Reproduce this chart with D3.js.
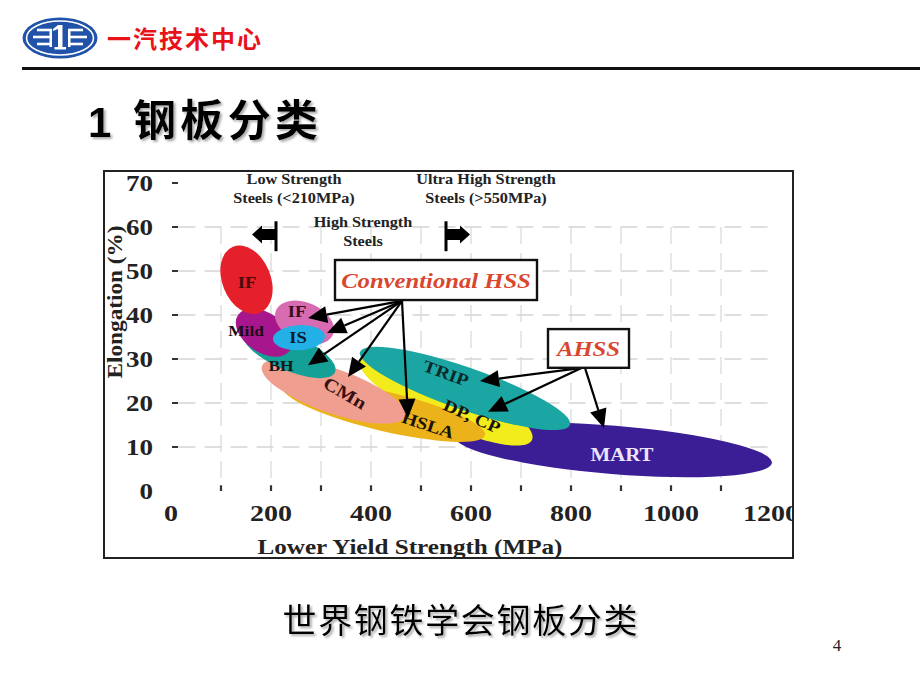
<!DOCTYPE html>
<html><head><meta charset="utf-8">
<script src="https://cdn.jsdelivr.net/npm/d3@7"></script>
<style>
html,body{margin:0;padding:0;background:#fff;}
svg{display:block;}
</style></head>
<body>
<script>
// ---------- DATA ----------
const xTicks = [0, 200, 400, 600, 800, 1000, 1200];
const yTicks = [0, 10, 20, 30, 40, 50, 60, 70];
const gridX = [100, 200, 300, 400, 500, 600, 700, 800, 900, 1000, 1100];
const gridY = [10, 20, 30, 40, 50, 60];

// steel families as ellipses: major-axis tips (MPa, %) and half width (%)
const families = ["MART", "DP, CP", "TRIP", "HSLA", "CMn", "BH", "Mild", "IF (pink)", "IS", "IF"];
const tipX1 = [568, 378, 378, 224, 182, 144, 134, 210, 204, 124];
const tipY1 = [12.3, 29.8, 31.6, 23.6, 28.4, 36.1, 40.0, 41.1, 34.5, 55.5];
const tipX2 = [1202, 722, 798, 628, 468, 328, 238, 324, 308, 178];
const tipY2 = [6.4, 11.6, 15.0, 12.7, 17.0, 27.0, 32.0, 35.5, 35.2, 40.5];
const halfW = [5.5, 5.5, 4.8, 4.5, 5.0, 4.1, 4.5, 4.5, 2.85, 5.5];

// labels inside the regions
const labelText = ["MART", "DP, CP", "TRIP", "HSLA", "CMn", "BH", "Mild", "IF", "IS", "IF"];
const labelX = [902, 602, 550, 514, 348, 220, 150, 252, 254, 152];
const labelY = [8.2, 17.0, 26.8, 15.0, 22.3, 28.4, 36.4, 40.9, 34.8, 47.3];

// callout boxes
const boxText = ["Conventional HSS", "AHSS"];
const boxX1 = [328, 754];
const boxX2 = [732, 916];
const boxY1 = [52.5, 36.8];
const boxY2 = [43.4, 28.0];

// callout arrows: origin -> tip
const arrowFromX = [462, 462, 462, 462, 462, 822, 822, 828];
const arrowFromY = [43.2, 43.2, 43.2, 43.2, 43.2, 28.0, 28.0, 28.0];
const arrowToX = [274, 312, 274, 354, 474, 618, 634, 866];
const arrowToY = [39.3, 35.9, 28.6, 25.9, 16.6, 25.0, 18.0, 14.3];

// strength-class annotations
const classLines = [["Low Strength", "Steels (<210MPa)"], ["High Strength", "Steels"], ["Ultra High Strength", "Steels (>550MPa)"]];
const classX = [246, 384, 630];
const classY = [70.9, 61.1, 70.9];
const boundaryMPa = [210, 550];
const boundaryDir = [-1, 1];

// ---------- STYLE ----------
const famColors = ["#3b1d96", "#f2ec1c", "#1ba6a4", "#ecb21a", "#ef9e8f", "#14a096", "#a8168e", "#d86cb2", "#22b0e6", "#e6202b"];
const labelRot = [0, 24, 20, 18, 30, 0, 0, 0, 0, 0];
const labelSize = [18, 17, 17, 17, 18, 15, 15, 16, 16, 16];
const labelColor = ["#ece4fb", "#1a1408", "#0d2a2a", "#1a1208", "#3a1010", "#0d1a1a", "#1a0d1a", "#3a0c1c", "#0d1a2a", "#4a0a0a"];

const W = 920, H = 690;
const svg = d3.select("body").append("svg").attr("width", W).attr("height", H);
const serif = "'Liberation Serif','Times New Roman',serif";
const cjk = "'Noto Sans CJK SC','Noto Sans',sans-serif";

// widen text horizontally (reference typeface is wider than Liberation Serif)
function stretch(sel, f) {
  sel.each(function () {
    const L = this.getComputedTextLength();
    d3.select(this).attr("textLength", L * f).attr("lengthAdjust", "spacingAndGlyphs");
  });
  return sel;
}

// ---------- HEADER ----------
const logo = svg.append("g");
logo.append("ellipse").attr("cx", 60).attr("cy", 38).attr("rx", 37.5).attr("ry", 20.5).attr("fill", "#1f52a8");
logo.append("ellipse").attr("cx", 60).attr("cy", 38).attr("rx", 33.5).attr("ry", 17).attr("fill", "none").attr("stroke", "#fff").attr("stroke-width", 1.6);
[-1, 1].forEach(s => {
  const bx = 60 + s * 8;
  logo.append("rect").attr("x", s < 0 ? bx - 2.5 : bx).attr("y", 29).attr("width", 2.5).attr("height", 18).attr("fill", "#fff");
  [[30, 15], [37, 19], [44, 15]].forEach(([yy, len]) => {
    logo.append("rect").attr("x", s < 0 ? bx - len : bx).attr("y", yy - 1.3).attr("width", len).attr("height", 2.6).attr("fill", "#fff");
  });
});
logo.append("rect").attr("x", 58).attr("y", 25).attr("width", 4.5).attr("height", 24).attr("fill", "#fff");
logo.append("path").attr("d", "M58,25 L53,29 L53,31 L58,29 Z").attr("fill", "#fff");
logo.append("rect").attr("x", 54.5).attr("y", 47).attr("width", 11.5).attr("height", 2.5).attr("fill", "#fff");

svg.append("text").attr("x", 107).attr("y", 48).attr("font-family", cjk).attr("font-weight", "bold")
  .attr("font-size", 24).attr("fill", "#e8121a").attr("textLength", 154).text("一汽技术中心");
svg.append("rect").attr("x", 22).attr("y", 67).attr("width", 898).attr("height", 3).attr("fill", "#111");

const defs = svg.append("defs");
const shadow = defs.append("filter").attr("id", "sh").attr("x", "-10%").attr("y", "-10%").attr("width", "130%").attr("height", "130%");
shadow.append("feDropShadow").attr("dx", 2).attr("dy", 2).attr("stdDeviation", 0.8).attr("flood-color", "#999").attr("flood-opacity", 0.8);
svg.append("text").attr("x", 88).attr("y", 137).attr("font-family", "'Liberation Sans',Arial,sans-serif").attr("font-weight", "bold")
  .attr("font-size", 42).attr("filter", "url(#sh)").text("1");
svg.append("text").attr("x", 133).attr("y", 136).attr("font-family", cjk).attr("font-weight", "bold")
  .attr("font-size", 43).attr("filter", "url(#sh)").attr("textLength", 185).text("钢板分类");

// ---------- CHART ----------
const x = d3.scaleLinear().domain([0, 1200]).range([171, 771]);
const y = d3.scaleLinear().domain([0, 70]).range([491, 183]);
const frame = {x0: 104, y0: 171, x1: 793, y1: 558};

defs.append("clipPath").attr("id", "fc").append("rect")
  .attr("x", frame.x0).attr("y", frame.y0).attr("width", frame.x1 - frame.x0).attr("height", frame.y1 - frame.y0);
const chart = svg.append("g").attr("clip-path", "url(#fc)");

// grid
chart.append("g").selectAll("line").data(gridY).join("line")
  .attr("x1", x(15)).attr("x2", x(1195)).attr("y1", d => y(d)).attr("y2", d => y(d))
  .attr("stroke", "#d4d4d4").attr("stroke-width", 1.4).attr("stroke-dasharray", "17,9");
chart.append("g").selectAll("line").data(gridX).join("line")
  .attr("x1", d => x(d)).attr("x2", d => x(d)).attr("y1", y(60)).attr("y2", y(1))
  .attr("stroke", "#d8d8d8").attr("stroke-width", 1.2).attr("stroke-dasharray", "17,9");

// tick marks
chart.append("g").selectAll("line").data(yTicks.filter(d => d > 0)).join("line")
  .attr("x1", x(2)).attr("x2", x(14)).attr("y1", d => y(d)).attr("y2", d => y(d))
  .attr("stroke", "#333").attr("stroke-width", 2);
chart.append("g").selectAll("line").data(gridX).join("line")
  .attr("x1", d => x(d)).attr("x2", d => x(d)).attr("y1", y(1.3)).attr("y2", y(0))
  .attr("stroke", "#333").attr("stroke-width", 2.2);

// tick labels
chart.append("g").selectAll("text").data(yTicks).join("text")
  .attr("x", 153).attr("y", d => y(d) + 8).attr("text-anchor", "end")
  .attr("font-family", serif).attr("font-weight", "bold").attr("font-size", 23).attr("fill", "#222")
  .attr("textLength", d => String(d).length * 13.5).attr("lengthAdjust", "spacingAndGlyphs")
  .text(d => d);
chart.append("g").selectAll("text").data(xTicks).join("text")
  .attr("x", d => x(d)).attr("y", 521).attr("text-anchor", "middle")
  .attr("font-family", serif).attr("font-weight", "bold").attr("font-size", 23).attr("fill", "#222")
  .attr("textLength", d => String(d).length * 14).attr("lengthAdjust", "spacingAndGlyphs")
  .text(d => d);

// axis titles
chart.append("text").attr("x", 410).attr("y", 554).attr("text-anchor", "middle")
  .attr("font-family", serif).attr("font-weight", "bold").attr("font-size", 22).attr("fill", "#222")
  .attr("textLength", 305).attr("lengthAdjust", "spacingAndGlyphs")
  .text("Lower Yield Strength (MPa)");
chart.append("text").attr("transform", "translate(122,302) rotate(-90)").attr("text-anchor", "middle")
  .attr("font-family", serif).attr("font-weight", "bold").attr("font-size", 22).attr("fill", "#222")
  .attr("textLength", 153).attr("lengthAdjust", "spacingAndGlyphs")
  .text("Elongation (%)");

// ellipses
const fam = families.map((n, i) => {
  const p1 = [x(tipX1[i]), y(tipY1[i])], p2 = [x(tipX2[i]), y(tipY2[i])];
  const cx = (p1[0] + p2[0]) / 2, cy = (p1[1] + p2[1]) / 2;
  const a = Math.hypot(p2[0] - p1[0], p2[1] - p1[1]) / 2;
  const b = y(0) - y(halfW[i]);
  const ang = Math.atan2(p2[1] - p1[1], p2[0] - p1[0]) * 180 / Math.PI;
  return {n, cx, cy, a, b, ang, c: famColors[i]};
});
chart.append("g").selectAll("ellipse").data(fam).join("ellipse")
  .attr("transform", d => `translate(${d.cx},${d.cy}) rotate(${d.ang})`)
  .attr("rx", d => d.a).attr("ry", d => d.b).attr("fill", d => d.c);

// labels
stretch(chart.append("g").selectAll("text").data(labelText).join("text")
  .attr("transform", (d, i) => `translate(${x(labelX[i])},${y(labelY[i])}) rotate(${labelRot[i]})`)
  .attr("text-anchor", "middle").attr("dy", "0.35em")
  .attr("font-family", serif).attr("font-weight", "bold")
  .attr("font-size", (d, i) => labelSize[i]).attr("fill", (d, i) => labelColor[i])
  .text(d => d), 1.16);

// arrows
function arrow(g, x0, y0, x1, y1, hl, hw, sw) {
  const dx = x1 - x0, dy = y1 - y0, L = Math.hypot(dx, dy);
  const ux = dx / L, uy = dy / L;
  const bx = x1 - ux * hl, by = y1 - uy * hl;
  g.append("line").attr("x1", x0).attr("y1", y0).attr("x2", bx).attr("y2", by)
    .attr("stroke", "#000").attr("stroke-width", sw);
  g.append("path").attr("d", `M${x1},${y1} L${bx - uy * hw},${by + ux * hw} L${bx + uy * hw},${by - ux * hw} Z`).attr("fill", "#000");
}
const ag = chart.append("g");
arrowFromX.forEach((d, i) => arrow(ag, x(d), y(arrowFromY[i]), x(arrowToX[i]), y(arrowToY[i]), 19, 8.5, 2.2));

// callout boxes
boxText.forEach((t, i) => {
  const g = chart.append("g");
  g.append("rect").attr("x", x(boxX1[i])).attr("y", y(boxY1[i]))
    .attr("width", x(boxX2[i]) - x(boxX1[i])).attr("height", y(boxY2[i]) - y(boxY1[i]))
    .attr("fill", "#fff").attr("stroke", "#111").attr("stroke-width", 2.4);
  stretch(g.append("text").attr("x", (x(boxX1[i]) + x(boxX2[i])) / 2).attr("y", (y(boxY1[i]) + y(boxY2[i])) / 2)
    .attr("dy", "0.35em").attr("text-anchor", "middle")
    .attr("font-family", serif).attr("font-style", "italic").attr("font-weight", "bold")
    .attr("font-size", 22).attr("fill", "#d9472f").text(t), 1.12);
});

// strength class annotations
classLines.forEach((lines, i) => {
  lines.forEach((ln, j) => {
    stretch(chart.append("text").attr("x", x(classX[i])).attr("y", y(classY[i]) + j * 19 + 5)
      .attr("text-anchor", "middle").attr("font-family", serif).attr("font-weight", "bold")
      .attr("font-size", 14).attr("fill", "#222").text(ln), 1.16);
  });
});
boundaryMPa.forEach((m, i) => {
  const bx = x(m), cy = y(58.3), s = boundaryDir[i];
  const g = chart.append("g");
  g.append("rect").attr("x", bx - 1.5).attr("y", y(61.3)).attr("width", 3).attr("height", y(54.5) - y(61.3)).attr("fill", "#000");
  const tip = x(m + s * 48);
  const neck = x(m + s * 28);
  g.append("path").attr("d",
    `M${bx},${cy - 5.5} L${neck},${cy - 5.5} L${neck},${cy - 9} L${tip},${cy} L${neck},${cy + 9} L${neck},${cy + 5.5} L${bx},${cy + 5.5} Z`)
    .attr("fill", "#000");
});

// frame
svg.append("rect").attr("x", frame.x0).attr("y", frame.y0).attr("width", frame.x1 - frame.x0).attr("height", frame.y1 - frame.y0)
  .attr("fill", "none").attr("stroke", "#222").attr("stroke-width", 2);

// ---------- FOOTER ----------
svg.append("text").attr("x", 460).attr("y", 633).attr("text-anchor", "middle")
  .attr("font-family", cjk).attr("font-size", 34).attr("filter", "url(#sh)").attr("textLength", 355).text("世界钢铁学会钢板分类");
svg.append("text").attr("x", 837).attr("y", 651).attr("text-anchor", "middle")
  .attr("font-family", "'Liberation Serif',serif").attr("font-size", 17).attr("fill", "#222").text("4");
</script>
</body></html>
